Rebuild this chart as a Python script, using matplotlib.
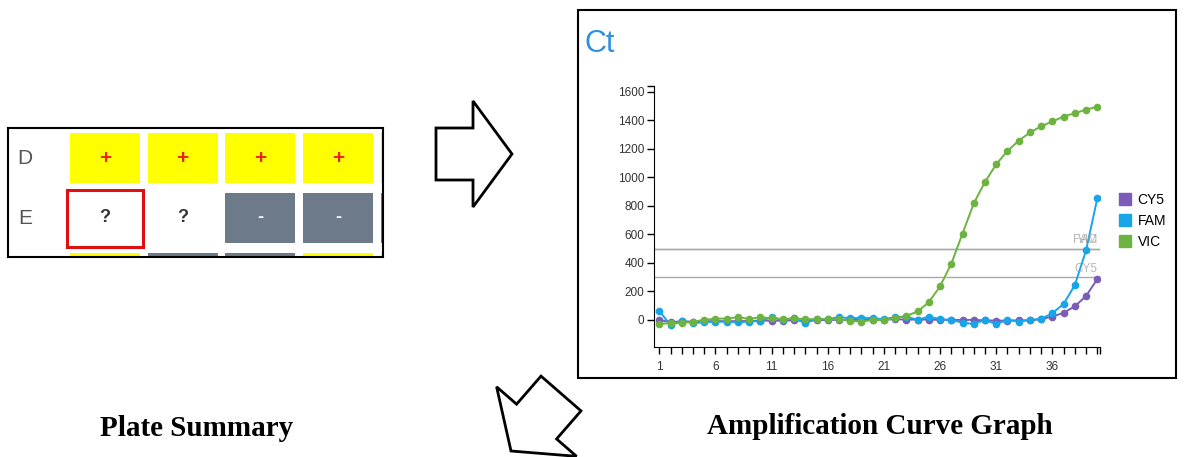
import numpy as np
import matplotlib.pyplot as plt
from matplotlib.patches import Rectangle, FancyArrow
from matplotlib.lines import Line2D

plt.rcParams['font.family'] = ['Liberation Sans', 'DejaVu Sans']

# data: plate summary
plate_rows = ['D', 'E', 'F']
plate_calls = [['+', '+', '+', '+', '+'],
               ['?', '?', '-', '-', '-'],
               ['+', '-', '-', '+', '+']]
selected_cell = (1, 0)

# data: amplification curves
cycles = np.arange(1, 41)
cy5 = [0, -16, -10, -12, -10, -8, -10, -8, -8, -5, -5, -5, -3, -5, -3, 0, 0, 0, 0, 0,
       2, 5, 2, 2, 2, 0, 0, 0, 0, -3, -5, -5, -3, -3, 5, 23, 50, 95, 168, 286]
fam = [63, -37, -5, -23, -16, -12, -12, -16, -12, -7, 19, 0, 12, -23, 7, 5, 19, 12, 16, 12,
       5, 19, 23, 0, 23, 5, 0, -19, -28, 0, -30, 0, -12, 0, 7, 47, 112, 244, 488, 852]
vic = [-28, -23, -23, -12, 0, 9, 9, 19, 7, 19, 12, 5, 12, 5, 5, 5, 5, -7, -12, 0,
       0, 12, 28, 59, 124, 235, 394, 605, 817, 967, 1091, 1185, 1256, 1314, 1357, 1392,
       1425, 1450, 1474, 1495]
series = {'CY5': cy5, 'FAM': fam, 'VIC': vic}
colors = {'CY5': '#7b5cb8', 'FAM': '#18a4e8', 'VIC': '#6cb43f'}
thresholds = {'FAM': 500, 'VIC': 500, 'CY5': 300}

W, H = 1184, 457
fig = plt.figure(figsize=(W / 100, H / 100), dpi=100)


def box(x0, y0, x1, y1):
    return [x0 / W, 1 - y1 / H, (x1 - x0) / W, (y1 - y0) / H]


# background layer in pixel coordinates
bg = fig.add_axes([0, 0, 1, 1])
bg.set_xlim(0, W)
bg.set_ylim(H, 0)
bg.axis('off')

# arrows
bg.add_patch(FancyArrow(436, 154, 76, 0, width=52, head_width=106, head_length=39,
                        length_includes_head=True, fc='white', ec='black', lw=2))
bg.add_patch(FancyArrow(561, 393.5, -50, 57.5, width=53, head_width=106, head_length=39,
                        length_includes_head=True, fc='white', ec='black', lw=2))

# captions
bg.text(197, 428, 'Plate Summary', ha='center', va='center', fontsize=21,
        fontweight='bold', family='Liberation Serif')
bg.text(880, 426, 'Amplification Curve Graph', ha='center', va='center', fontsize=21,
        fontweight='bold', family='Liberation Serif')

# chart frame + title
bg.add_patch(Rectangle((578, 10), 598, 368, fill=False, ec='black', lw=1.5))
bg.text(585, 44, 'Ct', ha='left', va='center', fontsize=22, color='#2e90e0')

# plate summary
pa = fig.add_axes(box(8, 128, 383, 257))
pa.set_xlim(-1.248, 3.578)
pa.set_ylim(1.65, -0.5)
pa.set_xticks([])
pa.set_yticks([])
for s in pa.spines.values():
    s.set_linewidth(1.5)
cell_style = {'+': ('#ffff00', '#e8231b'), '?': ('white', '#333333'), '-': ('#6c7a89', 'white')}
for r, row in enumerate(plate_calls):
    pa.text(-1.03, r, plate_rows[r], ha='center', va='center', fontsize=15,
            color='#555555', clip_on=True)
    for c, call in enumerate(row):
        fc, tc = cell_style[call]
        pa.add_patch(Rectangle((c - 0.45, r - 0.42), 0.9, 0.84, fc=fc, ec='none'))
        pa.text(c, r, call, ha='center', va='center', fontsize=15 if call == '+' else 13,
                color=tc, fontweight='bold', clip_on=True)
sr, sc = selected_cell
pa.add_patch(Rectangle((sc - 0.49, sr - 0.475), 0.98, 0.95, fill=False, ec='#e01010', lw=2.2))

# amplification curves
ax = fig.add_axes(box(654, 86, 1100, 347))
for name, vals in series.items():
    ax.plot(cycles, vals, color=colors[name], lw=1.4, marker='o', ms=4.5, zorder=3)
for name, thr in thresholds.items():
    ax.axhline(thr, color='#aaaaaa', lw=1, zorder=1)
    ax.text(40.0, thr + 18, name, ha='right', va='bottom', fontsize=8.5,
            color='#999999', alpha=0.7)
ax.set_xlim(0.53, 40.24)
ax.set_ylim(-190, 1640)
ax.set_xticks(cycles)
ax.set_xticklabels([str(c) if (c - 1) % 5 == 0 else '' for c in cycles])
ax.set_yticks(np.arange(0, 1601, 200))
ax.set_xticks([40.24], minor=True)
ax.set_yticks([1640], minor=True)
ax.tick_params(which='both', direction='out', length=5, width=1, labelsize=8.5,
               labelcolor='#333333')
ax.tick_params(axis='x', pad=5)
ax.tick_params(axis='y', pad=2)
for s in ['top', 'right']:
    ax.spines[s].set_visible(False)
ax.set_facecolor('none')

handles = [Line2D([], [], ls='none', marker='s', ms=8, color=colors[n]) for n in series]
fig.legend(handles, list(series), loc='upper left', bbox_to_anchor=(1118 / W, 1 - 193 / H),
           frameon=False, fontsize=10, handlelength=1, handletextpad=0.4,
           labelspacing=0.5, borderpad=0, borderaxespad=0)

fig.savefig('out.png', dpi=100)
